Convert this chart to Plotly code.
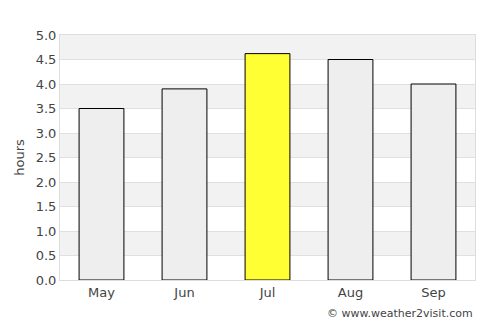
import plotly.graph_objects as go

months = ["May", "Jun", "Jul", "Aug", "Sep"]
hours = [3.5, 3.9, 4.62, 4.5, 4.0]
colors = ["#eeeeee", "#eeeeee", "#ffff33", "#eeeeee", "#eeeeee"]
y_ticks = [0.0, 0.5, 1.0, 1.5, 2.0, 2.5, 3.0, 3.5, 4.0, 4.5, 5.0]

fig = go.Figure()
fig.add_trace(go.Bar(x=months, y=hours, marker=dict(color=colors, line=dict(color="#000000", width=1)), width=0.54))

shapes = []
for i in range(len(y_ticks) - 1):
    if i % 2 == 1:
        shapes.append(dict(type="rect", xref="paper", yref="y", x0=0, x1=1,
                           y0=y_ticks[i], y1=y_ticks[i + 1], fillcolor="#f2f2f2",
                           line=dict(width=0), layer="below"))

fig.update_layout(
    width=500, height=325,
    margin=dict(l=60, r=25, t=35, b=45),
    paper_bgcolor="white", plot_bgcolor="white",
    font=dict(family="DejaVu Sans", size=13, color="#444444"),
    showlegend=False,
    shapes=shapes,
    xaxis=dict(showgrid=False, showline=True, linecolor="#dddddd", mirror=True, ticks="", tickfont=dict(size=13)),
    yaxis=dict(range=[0, 5], tickvals=y_ticks, ticktext=[f"{v:.1f}" for v in y_ticks],
               showgrid=True, gridcolor="#e0e0e0", gridwidth=1, showline=True, linecolor="#dddddd", mirror=True,
               zeroline=False, title=dict(text="hours", font=dict(size=13), standoff=8), tickfont=dict(size=13)),
    annotations=[dict(text="© www.weather2visit.com", xref="paper", yref="paper", x=1.0, y=0, xanchor="right",
                      yanchor="top", yshift=-25, xshift=0, showarrow=False, font=dict(size=11, color="#444444"))],
)

fig.write_html("out.html")
